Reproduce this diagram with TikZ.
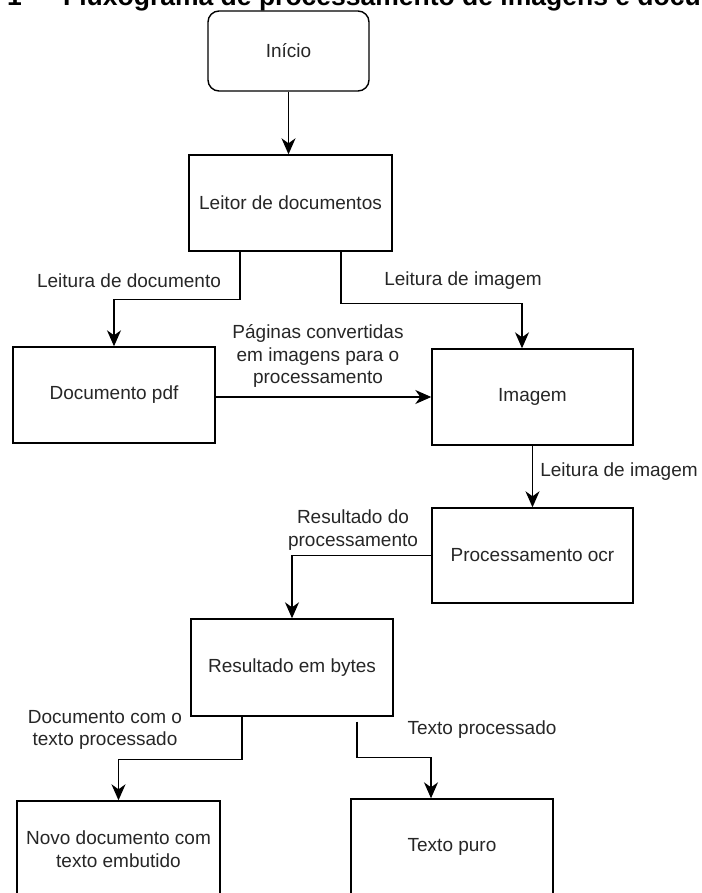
\documentclass[tikz,border=0pt]{standalone}
\usepackage{fontspec}
\setmainfont{Liberation Sans}
\usetikzlibrary{arrows.meta}
\begin{document}
\begin{tikzpicture}[x=1pt,y=-1pt,
  box/.style={draw=black, line width=1.4pt, inner sep=2pt, align=center, text=black!85, font=\fontsize{19}{22.5}\selectfont},
  lbl/.style={align=center, text=black!85, font=\fontsize{19}{22.5}\selectfont, inner sep=0pt},
  conn/.style={line width=1.4pt, -{Stealth[length=16pt,width=14pt,inset=5pt]}},
  ttl/.style={anchor=base west, inner sep=0pt, text=black, font=\bfseries\fontsize{26.5}{30}\selectfont}]
\useasboundingbox (0,0) rectangle (701,893);
\begin{scope}
\clip (0,0) rectangle (701,893);
\node[ttl] (title) at (7,5.5) {1 — Fluxograma de processamento de imagens e docu};
\end{scope}

\node[box, rounded corners=11pt, minimum width=161pt, minimum height=80pt] (inicio) at (288.5,51) {Início};
\node[box, minimum width=203pt, minimum height=96pt] (leitor) at (290.5,203) {Leitor de documentos};
\node[box, minimum width=202pt, minimum height=96pt] (pdf) at (114,395) {Documento pdf};
\node[box, minimum width=201pt, minimum height=96pt] (imagem) at (532.5,397) {Imagem};
\node[box, minimum width=201pt, minimum height=95pt] (ocr) at (532.5,555.5) {Processamento ocr};
\node[box, minimum width=202pt, minimum height=97pt] (bytes) at (292,667.5) {Resultado em bytes};
\node[box, minimum width=203pt, minimum height=96pt] (novo) at (118.5,849) {Novo documento com\\texto embutido};
\node[box, minimum width=202pt, minimum height=96pt] (puro) at (452,847) {Texto puro};

\draw[conn] (inicio.south) -- (inicio.south |- leitor.north);
\draw[conn] ([xshift=-50.5pt]leitor.south) -- ++(0,48) -| (pdf.north);
\draw[conn] ([xshift=50.5pt]leitor.south) -- ++(0,52) -| ([xshift=-10.5pt]imagem.north);
\draw[conn] (pdf.east |- imagem.west) -- (imagem.west);
\draw[conn] (imagem.south) -- (ocr.north);
\draw[conn] (ocr.west) -| (bytes.north);
\draw[conn] ([xshift=-50pt]bytes.south) -- ++(0,43) -| (novo.north);
\draw[conn] ([xshift=65pt,yshift=-5pt]bytes.south) -- ++(0,36) -| ([xshift=-21pt]puro.north);

\node[lbl] (l1) at (129,281) {Leitura de documento};
\node[lbl] (l2) at (463,281) {Leitura de imagem};
\node[lbl] (l3) at (318,356) {Páginas convertidas\\em imagens para o\\processamento};
\node[lbl] (l4) at (619,472) {Leitura de imagem};
\node[lbl] (l5) at (353,530) {Resultado do\\processamento};
\node[lbl] (l6) at (105,730) {Documento com o\\texto processado};
\node[lbl] (l7) at (482,730) {Texto processado};
\end{tikzpicture}
\end{document}
